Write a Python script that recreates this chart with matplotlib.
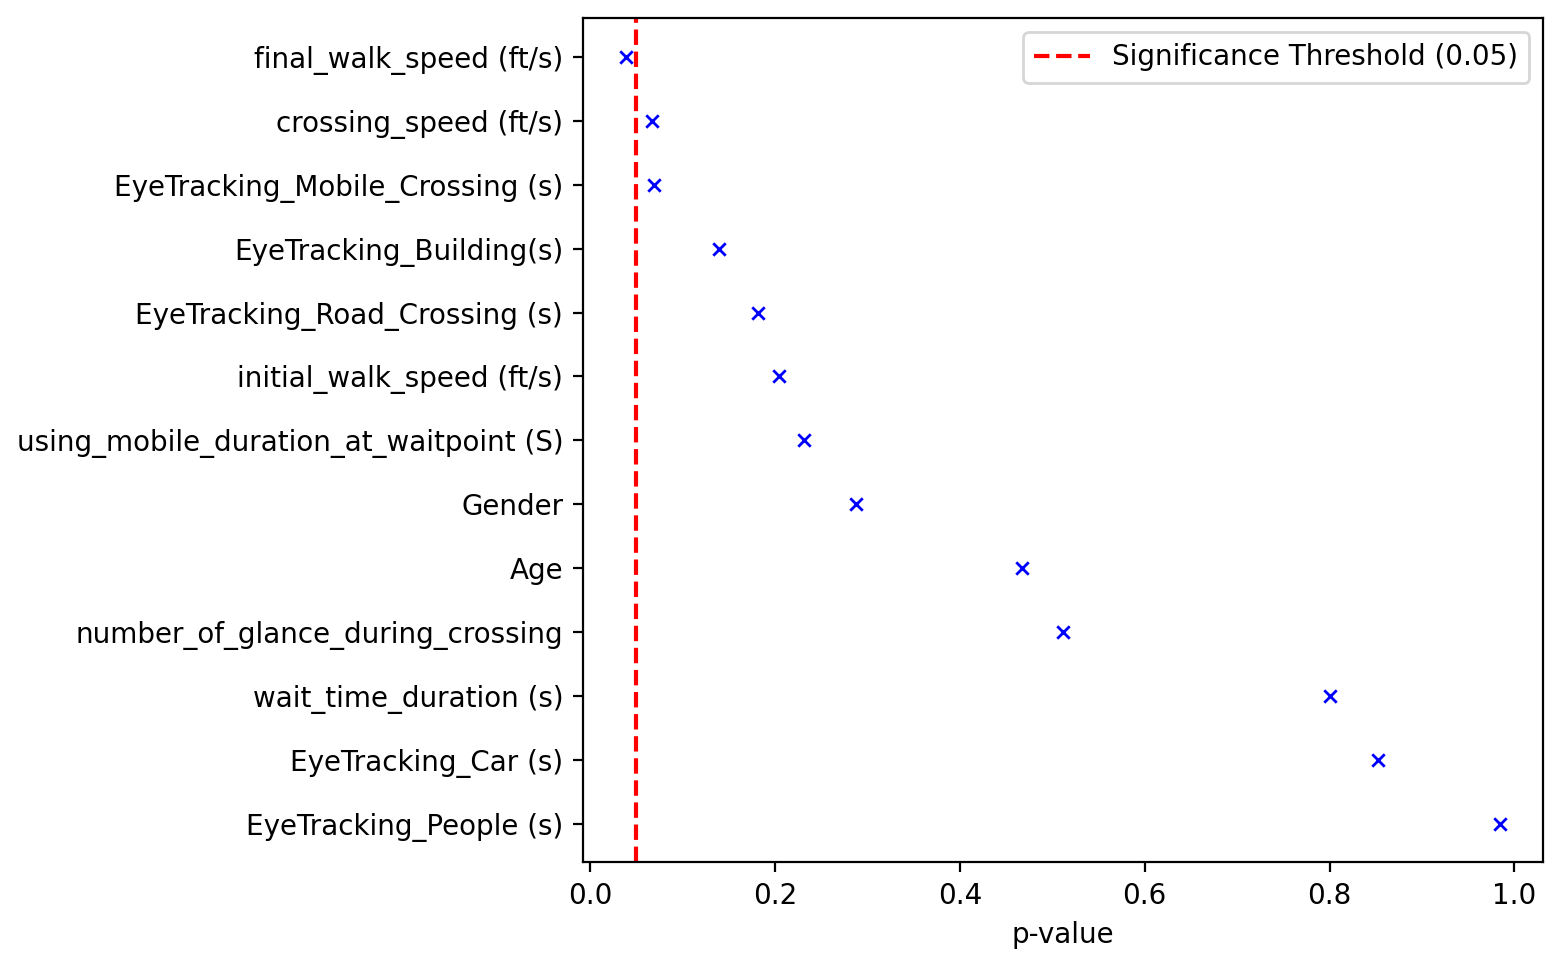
import numpy as np
import matplotlib
matplotlib.use('Agg')
import matplotlib.pyplot as plt

features = [
    'final_walk_speed (ft/s)',
    'crossing_speed (ft/s)',
    'EyeTracking_Mobile_Crossing (s)',
    'EyeTracking_Building(s)',
    'EyeTracking_Road_Crossing (s)',
    'initial_walk_speed (ft/s)',
    'using_mobile_duration_at_waitpoint (S)',
    'Gender',
    'Age',
    'number_of_glance_during_crossing',
    'wait_time_duration (s)',
    'EyeTracking_Car (s)',
    'EyeTracking_People (s)',
]
p_values = [0.039, 0.067, 0.069, 0.139, 0.181, 0.204, 0.231,
            0.288, 0.467, 0.512, 0.800, 0.852, 0.984]
threshold = 0.05

fig, ax = plt.subplots(figsize=(7.81, 4.845), dpi=200)
fig.subplots_adjust(left=0.373, right=0.988, top=0.981, bottom=0.110)

# plot bottom-up so the smallest p-value is on top
ax.scatter(p_values[::-1], features[::-1], marker='x', color='blue', s=20, linewidths=1)
ax.axvline(threshold, color='red', linestyle='--', label='Significance Threshold (0.05)')
ax.set_xlabel('p-value')
ax.legend(loc='upper right')

fig.savefig('out.png', dpi=200)
